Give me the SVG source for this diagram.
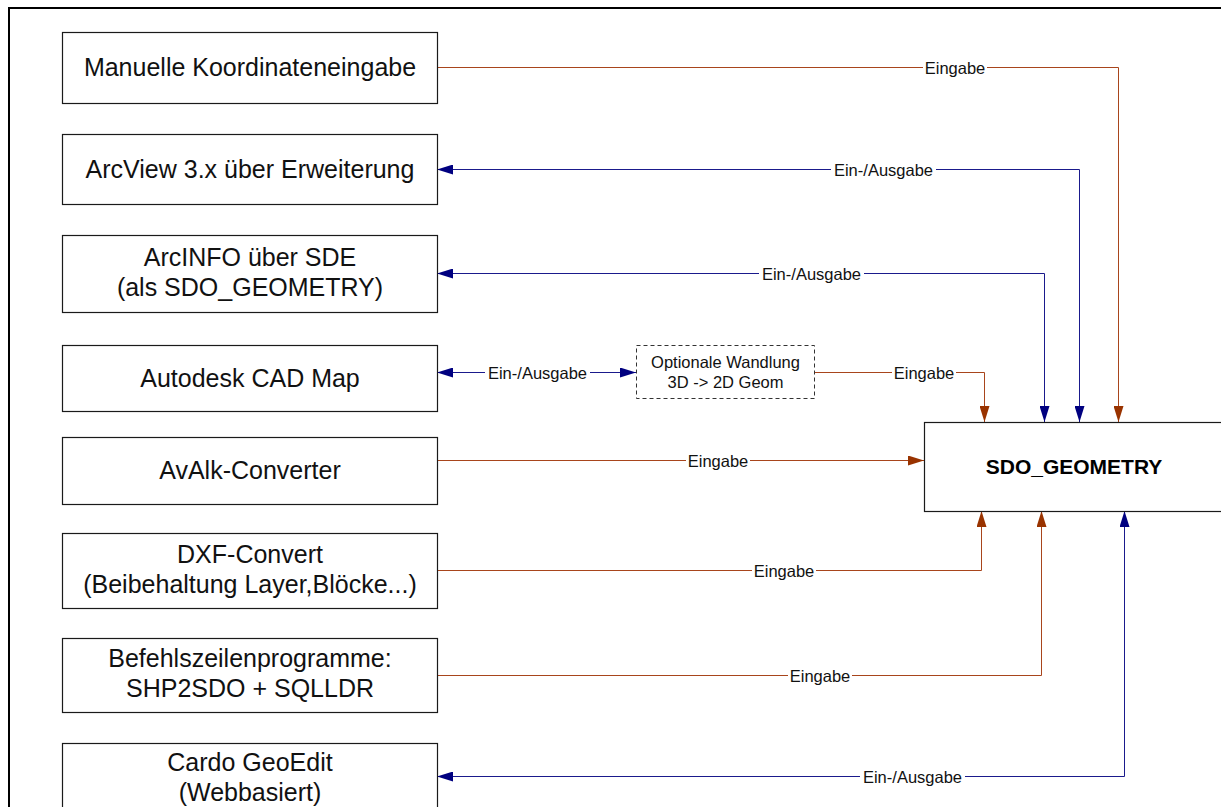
<svg xmlns="http://www.w3.org/2000/svg" width="1221" height="807" viewBox="0 0 1221 807">
<defs>
<style>
.frame{fill:none;stroke:#000;stroke-width:2}
.box{fill:#fff;stroke:#1a1a1a;stroke-width:1.2}
.dash{fill:#fff;stroke:#333;stroke-width:1;stroke-dasharray:4 3}
.t{font-family:"Liberation Sans",Arial,sans-serif;font-size:25px;fill:#111;text-anchor:middle}
.s{font-family:"Liberation Sans",Arial,sans-serif;font-size:16.5px;fill:#111;text-anchor:middle}
.b{font-family:"Liberation Sans",Arial,sans-serif;font-size:21px;font-weight:bold;fill:#000;text-anchor:middle}
.br{fill:none;stroke:#a8451c;stroke-width:1}
.bl{fill:none;stroke:#1a1a8c;stroke-width:1}
.lb{fill:#fff}
</style>
<marker id="ab" markerUnits="userSpaceOnUse" markerWidth="16" markerHeight="10" refX="16" refY="5" orient="auto-start-reverse">
<path d="M0,0 L16,5 L0,10 z" fill="#993300"/>
</marker>
<marker id="an" markerUnits="userSpaceOnUse" markerWidth="16" markerHeight="10" refX="16" refY="5" orient="auto-start-reverse">
<path d="M0,0 L16,5 L0,10 z" fill="#000080"/>
</marker>
</defs>
<rect width="1221" height="807" fill="#fff"/>
<rect class="frame" x="9" y="8" width="1240" height="830"/>

<g id="connectors">
<path class="br" d="M437,67.5 H1118.5 V422" marker-end="url(#ab)"/>
<path class="bl" d="M437,169.5 H1079.5 V422" marker-start="url(#an)" marker-end="url(#an)"/>
<path class="bl" d="M437,273.5 H1044.5 V422" marker-start="url(#an)" marker-end="url(#an)"/>
<path class="bl" d="M437,372.5 H636" marker-start="url(#an)" marker-end="url(#an)"/>
<path class="br" d="M815,372.5 H984.5 V422" marker-end="url(#ab)"/>
<path class="br" d="M437,460.5 H924" marker-end="url(#ab)"/>
<path class="br" d="M437,570.5 H981.5 V511" marker-end="url(#ab)"/>
<path class="br" d="M437,675.5 H1041.5 V511" marker-end="url(#ab)"/>
<path class="bl" d="M437,776.5 H1124.5 V511" marker-start="url(#an)" marker-end="url(#an)"/>
<g id="labels">
<rect class="lb" x="923" y="59" width="64" height="17"/><text class="s" x="955" y="73.5">Eingabe</text>
<rect class="lb" x="831" y="161" width="105" height="17"/><text class="s" x="883.5" y="175.5">Ein-/Ausgabe</text>
<rect class="lb" x="759" y="265" width="105" height="17"/><text class="s" x="811.5" y="279.5">Ein-/Ausgabe</text>
<rect class="lb" x="485" y="364" width="105" height="17"/><text class="s" x="537.5" y="378.5">Ein-/Ausgabe</text>
<rect class="lb" x="892" y="364" width="64" height="17"/><text class="s" x="924" y="378.5">Eingabe</text>
<rect class="lb" x="686" y="452" width="64" height="17"/><text class="s" x="718" y="466.5">Eingabe</text>
<rect class="lb" x="752" y="562" width="64" height="17"/><text class="s" x="784" y="576.5">Eingabe</text>
<rect class="lb" x="788" y="667" width="64" height="17"/><text class="s" x="820" y="681.5">Eingabe</text>
<rect class="lb" x="860" y="768" width="105" height="17"/><text class="s" x="912.5" y="782.5">Ein-/Ausgabe</text>
</g>
</g>

<g id="n1"><rect class="box" x="62.5" y="32.5" width="375" height="71"/><text class="t" x="250" y="76">Manuelle Koordinateneingabe</text></g>
<g id="n2"><rect class="box" x="62.5" y="134.5" width="375" height="70"/><text class="t" x="250" y="177.5">ArcView 3.x über Erweiterung</text></g>
<g id="n3"><rect class="box" x="62.5" y="235.5" width="375" height="77"/><text class="t" x="250" y="266">ArcINFO über SDE</text><text class="t" x="250" y="296">(als SDO_GEOMETRY)</text></g>
<g id="n4"><rect class="box" x="62.5" y="345.5" width="375" height="66"/><text class="t" x="250" y="387">Autodesk CAD Map</text></g>
<g id="n5"><rect class="box" x="62.5" y="437.5" width="375" height="67"/><text class="t" x="250" y="479">AvAlk-Converter</text></g>
<g id="n6"><rect class="box" x="62.5" y="533.5" width="375" height="75"/><text class="t" x="250" y="563">DXF-Convert</text><text class="t" x="250" y="593">(Beibehaltung Layer,Blöcke...)</text></g>
<g id="n7"><rect class="box" x="62.5" y="638.5" width="375" height="74"/><text class="t" x="250" y="667">Befehlszeilenprogramme:</text><text class="t" x="250" y="697">SHP2SDO + SQLLDR</text></g>
<g id="n8"><rect class="box" x="62.5" y="743.5" width="375" height="80"/><text class="t" x="250" y="771">Cardo GeoEdit</text><text class="t" x="250" y="801">(Webbasiert)</text></g>
<g id="n9"><rect class="dash" x="636.5" y="345.5" width="178" height="53"/><text class="s" x="725.5" y="368">Optionale Wandlung</text><text class="s" x="725.5" y="388">3D -&gt; 2D Geom</text></g>
<g id="n10"><rect class="box" x="924.5" y="422.5" width="300" height="89"/><text class="b" x="1074" y="474">SDO_GEOMETRY</text></g>
</svg>
